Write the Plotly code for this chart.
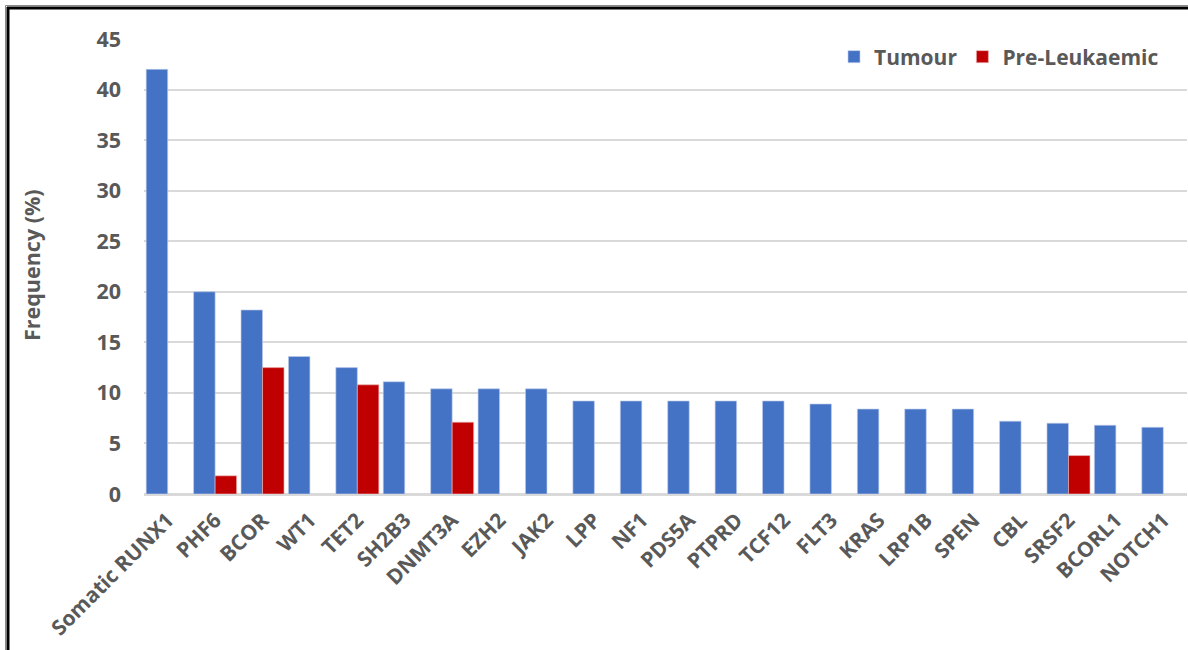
import plotly.graph_objects as go

# Gene categories and mutation frequencies (%)
genes = ["Somatic RUNX1", "PHF6", "BCOR", "WT1", "TET2", "SH2B3", "DNMT3A", "EZH2",
         "JAK2", "LPP", "NF1", "PDS5A", "PTPRD", "TCF12", "FLT3", "KRAS", "LRP1B",
         "SPEN", "CBL", "SRSF2", "BCORL1", "NOTCH1"]
tumour = [42.0, 20.0, 18.2, 13.6, 12.5, 11.1, 10.4, 10.4, 10.4, 9.2, 9.2, 9.2, 9.2,
          9.2, 8.9, 8.4, 8.4, 8.4, 7.2, 7.0, 6.8, 6.6]
pre_leukaemic = [None, 1.8, 12.5, None, 10.8, None, 7.1, None, None, None, None, None,
                 None, None, None, None, None, None, None, 3.8, None, None]
y_ticks = [0, 5, 10, 15, 20, 25, 30, 35, 40, 45]

FONT = "Open Sans"
GREY = "#595959"

W, H = 1188, 650
L, R, T, B = 144, 1, 39, 156
pw, ph = W - L - R, H - T - B


def px_x(px):
    return (px - L) / pw


def px_y(py):
    return (H - B - py) / ph


fig = go.Figure()
fig.add_trace(go.Bar(
    x=genes, y=tumour, name="Tumour",
    marker=dict(color="#4472C4", line=dict(color="rgba(190,205,235,0.8)", width=0.8)),
))
fig.add_trace(go.Bar(
    x=genes, y=pre_leukaemic, name="Pre-Leukaemic",
    marker=dict(color="#C00000", line=dict(color="rgba(235,180,180,0.8)", width=0.8)),
))

fig.update_layout(
    width=W, height=H,
    margin=dict(l=L, r=R, t=T, b=B, pad=0),
    paper_bgcolor="white", plot_bgcolor="white",
    barmode="group", bargap=0.093, bargroupgap=0,
    font=dict(family=FONT, color=GREY),
    showlegend=True,
    legend=dict(
        orientation="h", x=px_x(1164), xanchor="right", y=px_y(57), yanchor="middle",
        font=dict(family=FONT, size=21, color=GREY, weight="bold"),
        bgcolor="rgba(0,0,0,0)", itemwidth=30, traceorder="normal",
    ),
    xaxis=dict(
        type="category", tickangle=-45, showgrid=False, ticks="",
        tickfont=dict(family=FONT, size=21, color=GREY, weight="bold"),
        showline=True, linecolor="#D9D9D9", linewidth=1.5,
        ticklabelstandoff=4,
    ),
    yaxis=dict(
        range=[0, 45], tickvals=y_ticks, showgrid=True, gridcolor="#D9D9D9",
        gridwidth=1.5, zeroline=True, zerolinecolor="#D9D9D9", zerolinewidth=1.5,
        showline=False, ticks="",
        tickfont=dict(family=FONT, size=21.5, color=GREY, weight="bold"),
        ticklabelstandoff=22,
    ),
    annotations=[dict(
        text="Frequency (%)", textangle=-90, showarrow=False,
        xref="paper", yref="paper", x=px_x(31), y=px_y(265),
        xanchor="center", yanchor="middle",
        font=dict(family=FONT, size=21.5, color=GREY, weight="bold"),
    )],
    shapes=[
        # image frame on the left and top edges
        dict(type="line", xref="paper", yref="paper",
             x0=px_x(8), x1=px_x(8), y0=px_y(7), y1=px_y(H),
             line=dict(color="black", width=3)),
        dict(type="line", xref="paper", yref="paper",
             x0=px_x(7), x1=px_x(W), y0=px_y(8), y1=px_y(8),
             line=dict(color="black", width=3)),
        dict(type="line", xref="paper", yref="paper",
             x0=px_x(5.5), x1=px_x(5.5), y0=px_y(5.5), y1=px_y(H),
             line=dict(color="#888888", width=1)),
        dict(type="line", xref="paper", yref="paper",
             x0=px_x(5.5), x1=px_x(W), y0=px_y(5.5), y1=px_y(5.5),
             line=dict(color="#888888", width=1)),
    ],
)

fig.write_html("out.html")
